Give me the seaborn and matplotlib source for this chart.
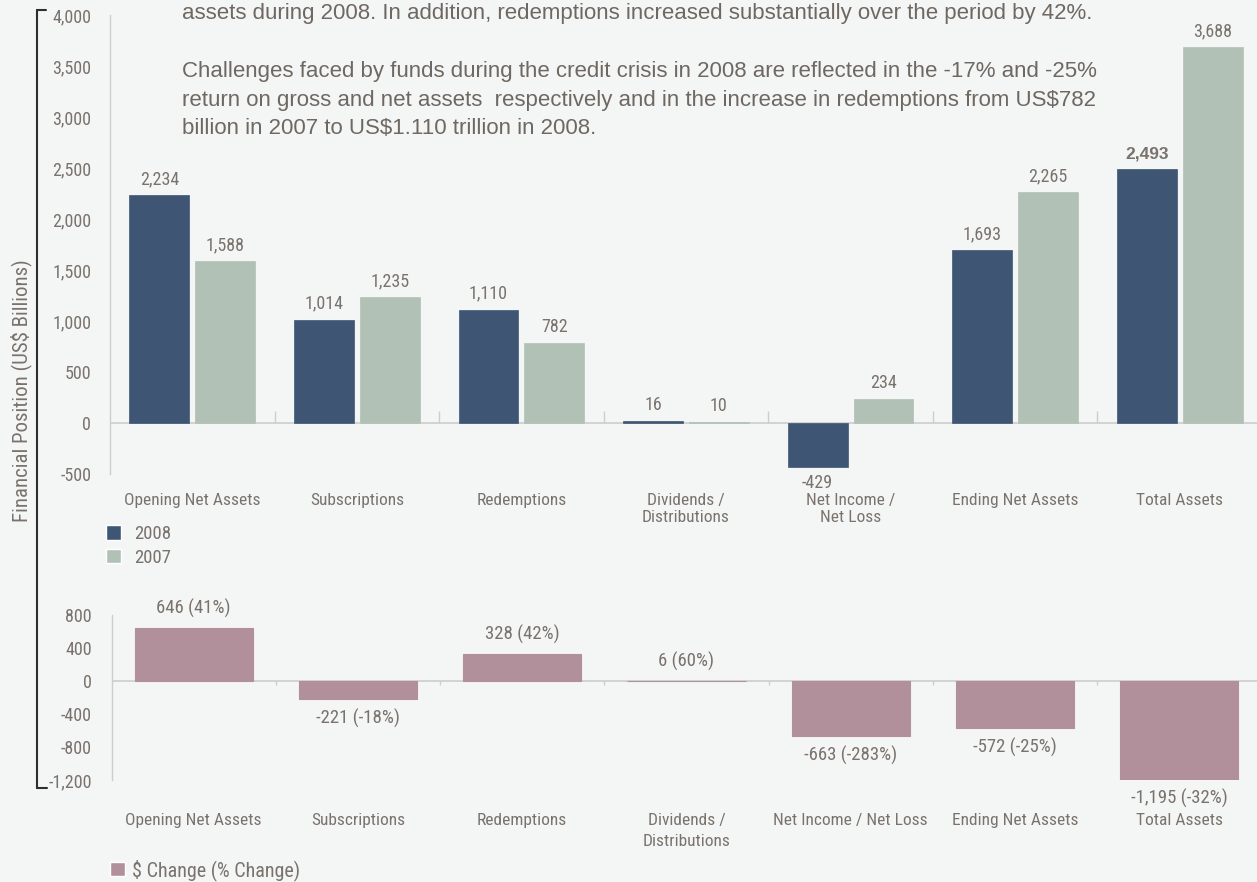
import numpy as np
import pandas as pd
import matplotlib
matplotlib.use("Agg")
import matplotlib.pyplot as plt
from matplotlib import font_manager
from matplotlib.lines import Line2D
from matplotlib.patches import Patch
from matplotlib.ticker import FuncFormatter, MultipleLocator
import seaborn as sns

# ---- data -------------------------------------------------------------
categories = ["Opening Net Assets", "Subscriptions", "Redemptions",
              "Dividends / Distributions", "Net Income / Net Loss",
              "Ending Net Assets", "Total Assets"]
top_tick_labels = ["Opening Net Assets", "Subscriptions", "Redemptions",
                   "Dividends /\nDistributions", "Net Income /\nNet Loss",
                   "Ending Net Assets", "Total Assets"]
bottom_tick_labels = ["Opening Net Assets", "Subscriptions", "Redemptions",
                      "Dividends /\nDistributions", "Net Income / Net Loss",
                      "Ending Net Assets", "Total Assets"]
years = ["2008", "2007"]
values_2008 = [2234, 1014, 1110, 16, -429, 1693, 2493]
values_2007 = [1588, 1235, 782, 10, 234, 2265, 3688]
change_usd = [646, -221, 328, 6, -663, -572, -1195]
change_pct = [41, -18, 42, 60, -283, -25, -32]
change_label = "$ Change (% Change)"
y_label = "Financial Position (US$ Billions)"
paragraph = [
    "assets during 2008. In addition, redemptions increased substantially over the period by 42%.",
    "",
    "Challenges faced by funds during the credit crisis in 2008 are reflected in the -17% and -25%",
    "return on gross and net assets  respectively and in the increase in redemptions from US$782",
    "billion in 2007 to US$1.110 trillion in 2008.",
]

# ---- fonts: prefer a condensed sans for the chart labels ---------------
_fonts = font_manager.fontManager.ttflist
_names = {f.name for f in _fonts}
NARROW = None
for cand in ["Liberation Sans Narrow", "Roboto Condensed", "DejaVu Sans Condensed",
             "Noto Sans Condensed", "Open Sans Condensed", "Arial Narrow"]:
    if cand in _names:
        NARROW = cand
        break
NARROW_STRETCH = "normal"
if NARROW is None:
    for f in _fonts:
        if f.name in ("Noto Sans", "Roboto", "Open Sans", "Inter") and \
                str(f.stretch) in ("condensed", "semi-condensed", "extra-condensed"):
            NARROW, NARROW_STRETCH = f.name, str(f.stretch)
            break
if NARROW is None:
    NARROW = "Liberation Sans"
SANS = "Liberation Sans" if "Liberation Sans" in _names else "DejaVu Sans"

# ---- style ------------------------------------------------------------
BG = "#f4f6f6"
NAVY = "#3e5673"
SAGE = "#b1c1b6"
MAUVE = "#b2909b"
TEXT = "#7a726c"
PARA = "#6f6862"
GRID = "#cdcdcd"

sns.set_style("white")
plt.rcParams["font.family"] = [NARROW, "DejaVu Sans"]
plt.rcParams["font.stretch"] = NARROW_STRETCH
plt.rcParams["text.color"] = TEXT
plt.rcParams["xtick.color"] = TEXT
plt.rcParams["ytick.color"] = TEXT

W, H = 1257, 882
fig = plt.figure(figsize=(W / 100, H / 100), dpi=100, facecolor=BG)


def thousands(v, _pos=None):
    return f"{int(round(v)):,}"


# ---- top panel: financial position by year ----------------------------
ax1 = fig.add_axes([110 / W, 1 - 474 / H, 1152 / W, 459 / H])
ax1.set_facecolor("none")
n = len(categories)
top_df = pd.DataFrame({
    "category": categories * 2,
    "year": [years[0]] * n + [years[1]] * n,
    "value": values_2008 + values_2007,
})
ax1.axhline(0, color=GRID, lw=1.2, zorder=0)
sns.barplot(data=top_df, x="category", y="value", hue="year",
            order=categories, hue_order=years, palette=[NAVY, SAGE],
            width=0.8, gap=0.09, saturation=1, legend=False, linewidth=0,
            ax=ax1, zorder=2)
for cont, col in zip(ax1.containers, [NAVY, SAGE]):
    for bar in cont:
        bar.set_edgecolor(col)
        bar.set_linewidth(0.5)
ax1.set_xlim(-0.5, n - 0.5)
ax1.set_ylim(-500, 4000)
ax1.yaxis.set_major_locator(MultipleLocator(500))
ax1.yaxis.set_major_formatter(FuncFormatter(thousands))
ax1.tick_params(axis="y", direction="in", length=20, width=1, color=GRID,
                pad=13.5, labelsize=13)
ax1.set_xticks(range(n))
ax1.set_xticklabels(top_tick_labels, linespacing=1.1)
ax1.tick_params(axis="x", length=0, pad=14, labelsize=12.5)
ax1.set_xlabel("")
ax1.set_ylabel("")
for side in ("top", "right", "bottom"):
    ax1.spines[side].set_visible(False)
ax1.spines["left"].set_color(GRID)
ax1.spines["left"].set_linewidth(1)
ax1.vlines(np.arange(n - 1) + 0.5, 0, 118, color=GRID, lw=1, zorder=1)

for cont in ax1.containers:
    ax1.bar_label(cont, fmt="{:,.0f}", padding=5, fontsize=13, color=TEXT)
# the 2008 total-assets figure is set in bold
total_2008 = ax1.texts[n - 1]
total_2008.set_fontfamily([SANS, "DejaVu Sans"])
total_2008.set_fontstretch("normal")
total_2008.set_fontweight("bold")
total_2008.set_fontsize(12.5)

ax1.legend(handles=[Patch(facecolor=NAVY), Patch(facecolor=SAGE)], labels=years,
           loc="upper left", bbox_to_anchor=(106 / W, 1 - 525 / H),
           bbox_transform=fig.transFigure, frameon=False, fontsize=13.5,
           handlelength=0.8, handleheight=0.8, handletextpad=0.7,
           labelspacing=0.3, borderpad=0, borderaxespad=0, labelcolor=TEXT)

# ---- bottom panel: change between years ------------------------------
ax2 = fig.add_axes([111.5 / W, 1 - 780 / H, 1150 / W, 165 / H])
ax2.set_facecolor("none")
ax2.axhline(0, color=GRID, lw=1.2, zorder=0)
sns.barplot(x=categories, y=change_usd, order=categories, color=MAUVE,
            saturation=1, width=0.72, linewidth=0.8, edgecolor=MAUVE,
            ax=ax2, zorder=2)
ax2.set_xlim(-0.5, n - 0.5)
ax2.set_ylim(-1200, 800)
ax2.yaxis.set_major_locator(MultipleLocator(400))
ax2.yaxis.set_minor_locator(MultipleLocator(200))
ax2.yaxis.set_major_formatter(FuncFormatter(thousands))
ax2.tick_params(axis="y", which="both", direction="in", length=20, width=1,
                color=GRID, pad=14, labelsize=13)
ax2.set_xticks(range(n))
ax2.set_xticklabels(bottom_tick_labels, linespacing=1.45)
ax2.tick_params(axis="x", length=0, pad=24, labelsize=12.5)
for side in ("top", "right", "bottom"):
    ax2.spines[side].set_visible(False)
ax2.spines["left"].set_color(GRID)
ax2.spines["left"].set_linewidth(1)
ax2.vlines(np.arange(n - 1) + 0.5, -48, 0, color=GRID, lw=1, zorder=1)

change_texts = [f"{v:,} ({p}%)" for v, p in zip(change_usd, change_pct)]
ax2.bar_label(ax2.containers[0], labels=change_texts, padding=7,
              fontsize=13.5, color=TEXT)

ax2.legend(handles=[Patch(facecolor=MAUVE)], labels=[change_label],
           loc="upper left", bbox_to_anchor=(110 / W, 1 - 859 / H),
           bbox_transform=fig.transFigure, frameon=False, fontsize=14.5,
           handlelength=0.75, handleheight=0.75, handletextpad=0.35,
           borderpad=0, borderaxespad=0, labelcolor=TEXT)

# ---- paragraph above the chart -----------------------------------------
for i, line in enumerate(paragraph):
    if line:
        fig.text(182 / W, 1 - (14 + 28.7 * i) / H, line, ha="left", va="center",
                 fontsize=16, color=PARA, fontfamily=[SANS, "DejaVu Sans"],
                 fontstretch="normal")

# ---- shared axis title and bracket --------------------------------------
fig.text(21 / W, 1 - 391 / H, y_label, rotation=90, ha="center", va="center",
         fontsize=15, color=TEXT)
bracket = dict(color="#2e2e2e", lw=1.5, transform=fig.transFigure)
fig.add_artist(Line2D([37 / W, 37 / W], [1 - 10 / H, 1 - 788 / H], **bracket))
fig.add_artist(Line2D([37 / W, 46 / W], [1 - 10 / H, 1 - 10 / H], **bracket))
fig.add_artist(Line2D([37 / W, 47 / W], [1 - 788 / H, 1 - 788 / H], **bracket))

fig.savefig("out.png", dpi=100, facecolor=BG)
